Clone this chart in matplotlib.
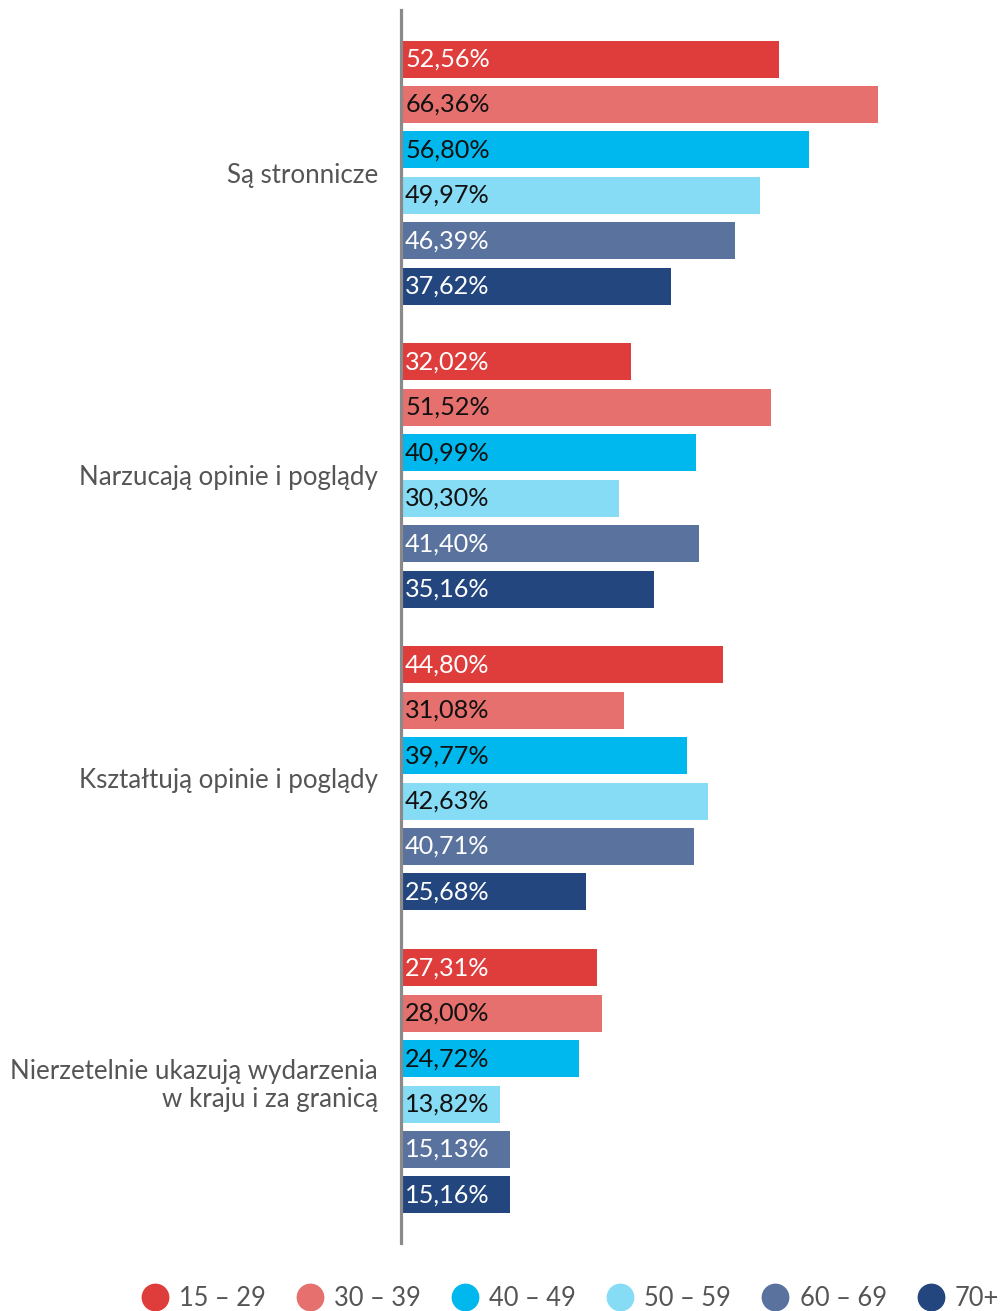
import matplotlib
matplotlib.use("Agg")
import matplotlib.pyplot as plt
from matplotlib.lines import Line2D
import numpy as np

plt.rcParams['font.family'] = ['Lato', 'DejaVu Sans']

categories = ["Są stronnicze", "Narzucają opinie i poglądy",
              "Kształtują opinie i poglądy",
              "Nierzetelnie ukazują wydarzenia\nw kraju i za granicą"]
age_groups = ["15 – 29", "30 – 39", "40 – 49", "50 – 59", "60 – 69", "70+"]
v_15_29 = [52.56, 32.02, 44.80, 27.31]
v_30_39 = [66.36, 51.52, 31.08, 28.00]
v_40_49 = [56.80, 40.99, 39.77, 24.72]
v_50_59 = [49.97, 30.30, 42.63, 13.82]
v_60_69 = [46.39, 41.40, 40.71, 15.13]
v_70 = [37.62, 35.16, 25.68, 15.16]
series = [v_15_29, v_30_39, v_40_49, v_50_59, v_60_69, v_70]

colors = ["#DE3D3B", "#E5706D", "#00B8EE", "#86DBF5", "#59739E", "#23467E"]
label_colors = ["white", "#111111", "#111111", "#111111", "white", "white"]

W, H = 1002, 1311
fig = plt.figure(figsize=(W / 100, H / 100), dpi=100)
ax = fig.add_axes([401 / W, (H - 1243) / H, (W - 401) / W, (1243 - 10) / H])

G = 6.67
bar_h = 0.815
for i, (vals, c, lc) in enumerate(zip(series, colors, label_colors)):
    ys = np.arange(len(categories)) * G + i
    ax.barh(ys, vals, height=bar_h, color=c, left=0)
    for y, v in zip(ys, vals):
        ax.annotate(f"{v:.2f}%".replace(".", ","), (0, y), xytext=(3, 0),
                    textcoords="offset points", ha="left", va="center",
                    fontsize=18.2, color=lc)

centers = np.arange(len(categories)) * G + 2.5
ax.set_yticks(centers)
ax.set_yticklabels(categories, fontsize=18.6, color="#555555", ha="right",
                   linespacing=1.15)
ax.tick_params(axis="y", length=0, pad=16.5)
ax.tick_params(axis="x", bottom=False, labelbottom=False)
ax.set_xlim(0, (W - 401) / 7.19)
ax.set_ylim(3 * G + 5 + 1.06, -1.08)
for s in ["top", "right", "bottom"]:
    ax.spines[s].set_visible(False)
ax.spines["left"].set_color("#8a8a8a")
ax.spines["left"].set_linewidth(2.3)

handles = [Line2D([], [], marker="o", linestyle="", markersize=19,
                  markerfacecolor=c, markeredgecolor=c) for c in colors]
fig.legend(handles, age_groups, loc="center", bbox_to_anchor=(0.5695, 13 / H),
           ncol=6, frameon=False, fontsize=18.4, handletextpad=0.45,
           columnspacing=1.22, labelcolor="#555555", handlelength=1.0)

fig.savefig("out.png", dpi=100)
